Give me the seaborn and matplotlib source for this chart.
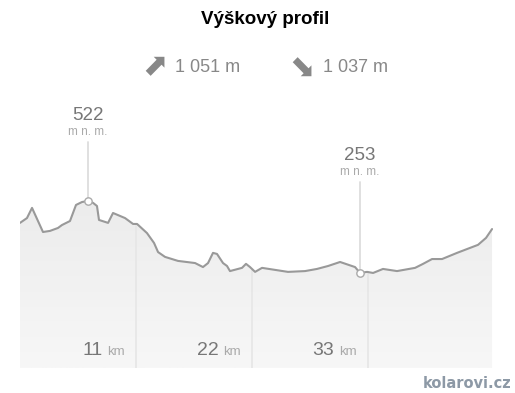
import numpy as np
import pandas as pd
import matplotlib
matplotlib.use('Agg')
import matplotlib.pyplot as plt
import seaborn as sns

# data: distance (km) and altitude (m n. m.)
dist_km = [0.0, 0.66, 1.14, 2.18, 2.84, 3.60, 3.98, 4.74, 5.31, 5.88, 6.45, 6.92,
           7.30, 7.49, 8.35, 8.82, 9.96, 10.72, 11.10, 12.04, 12.71, 13.09, 13.75,
           14.98, 16.60, 17.35, 17.83, 18.30, 18.68, 19.25, 19.63, 19.91, 21.05,
           21.43, 21.81, 22.29, 22.95, 25.41, 27.03, 28.16, 29.21, 30.35, 31.77,
           32.24, 32.91, 33.48, 34.42, 35.75, 37.46, 38.22, 39.07, 40.02, 41.44,
           43.43, 44.19, 44.76]
alt_m = [440, 458, 496, 406, 410, 421, 432, 447, 507, 518, 522, 515,
         503, 451, 440, 477, 458, 436, 436, 402, 365, 331, 313,
         298, 290, 275, 290, 328, 324, 290, 279, 260, 272,
         287, 275, 257, 272, 257, 260, 268, 279, 294, 275,
         253, 257, 253, 268, 260, 272, 287, 305, 305, 328,
         358, 384, 417]
km_ticks = [11, 22, 33]
x_max = 44.85
max_point = (6.45, 522)
min_point = (32.24, 253)
title = 'Výškový profil'
ascent = '1 051 m'
descent = '1 037 m'

df = pd.DataFrame({'km': dist_km, 'alt': alt_m})

sns.set_style('white')
plt.rcParams['font.family'] = ['Liberation Sans', 'DejaVu Sans']

W, H = 515, 393
fig = plt.figure(figsize=(W / 100, H / 100), dpi=100)
ax = fig.add_axes([20 / W, (H - 368) / H, 473 / W, (368 - 100) / H])
ymin, ymax = -102, 899
ax.set_xlim(0, x_max)
ax.set_ylim(ymin, ymax)

# gradient fill under the profile
grad = np.linspace(0, 1, 100).reshape(-1, 1)
img = ax.imshow(grad, extent=[0, x_max, ymin, max(alt_m)], origin='lower',
                cmap=matplotlib.colors.LinearSegmentedColormap.from_list(
                    'g', ['#f7f7f7', '#ececec']),
                aspect='auto', zorder=0)
poly = ax.fill_between(df['km'], df['alt'], ymin, color='none', lw=0)
clip = matplotlib.patches.PathPatch(poly.get_paths()[0], transform=ax.transData,
                                    facecolor='none', edgecolor='none')
ax.add_patch(clip)
img.set_clip_path(clip)

# vertical km grid lines inside the fill + labels
for t in km_ticks:
    top = np.interp(t, df['km'], df['alt'])
    ax.plot([t, t], [ymin, top], color='#e6e6e6', lw=1.2, zorder=1)
    ax.text(t - 3.2, -53, f'{t}', ha='right', va='baseline', fontsize=14,
            color='#777777', zorder=3)
    ax.text(t - 2.75, -53, 'km', ha='left', va='baseline', fontsize=9.5,
            color='#aaaaaa', zorder=3)

sns.lineplot(data=df, x='km', y='alt', ax=ax, color='#999999', lw=1.5, zorder=4)

# max / min markers
for (px, py), lbl_top in [(max_point, 142), (min_point, 182)]:
    y_top = ymin + (368 - lbl_top) / 268 * (ymax - ymin)
    ax.plot([px, px], [py, y_top], color='#dddddd', lw=1.3, zorder=3)
    ax.scatter([px], [py], s=28, facecolor='white', edgecolor='#aaaaaa',
               linewidth=1, zorder=5)
    ax.text(px, y_top + 14, 'm n. m.', ha='center', va='bottom', fontsize=8.5,
            color='#aaaaaa')
    ax.text(px, y_top + 68, f'{py}', ha='center', va='bottom', fontsize=13.5,
            color='#777777')

ax.axis('off')

fig.text(265 / W, 1 - 20 / H, title, ha='center', va='center', fontsize=13.5,
         fontweight='bold', color='black')
fig.text(155 / W, 1 - 67 / H, '⬈', ha='center', va='center', fontsize=22,
         color='#888888', family='DejaVu Sans')
fig.text(175 / W, 1 - 68 / H, ascent, ha='left', va='center', fontsize=13,
         color='#888888')
fig.text(302 / W, 1 - 69 / H, '⬊', ha='center', va='center', fontsize=22,
         color='#888888', family='DejaVu Sans')
fig.text(323 / W, 1 - 68 / H, descent, ha='left', va='center', fontsize=13,
         color='#888888')
fig.text(511 / W, 1 - 383 / H, 'kolarovi.cz', ha='right', va='center',
         fontsize=10.5, fontweight='bold', color='#8d99a6', family='DejaVu Sans')

fig.savefig('out.png', dpi=100)
